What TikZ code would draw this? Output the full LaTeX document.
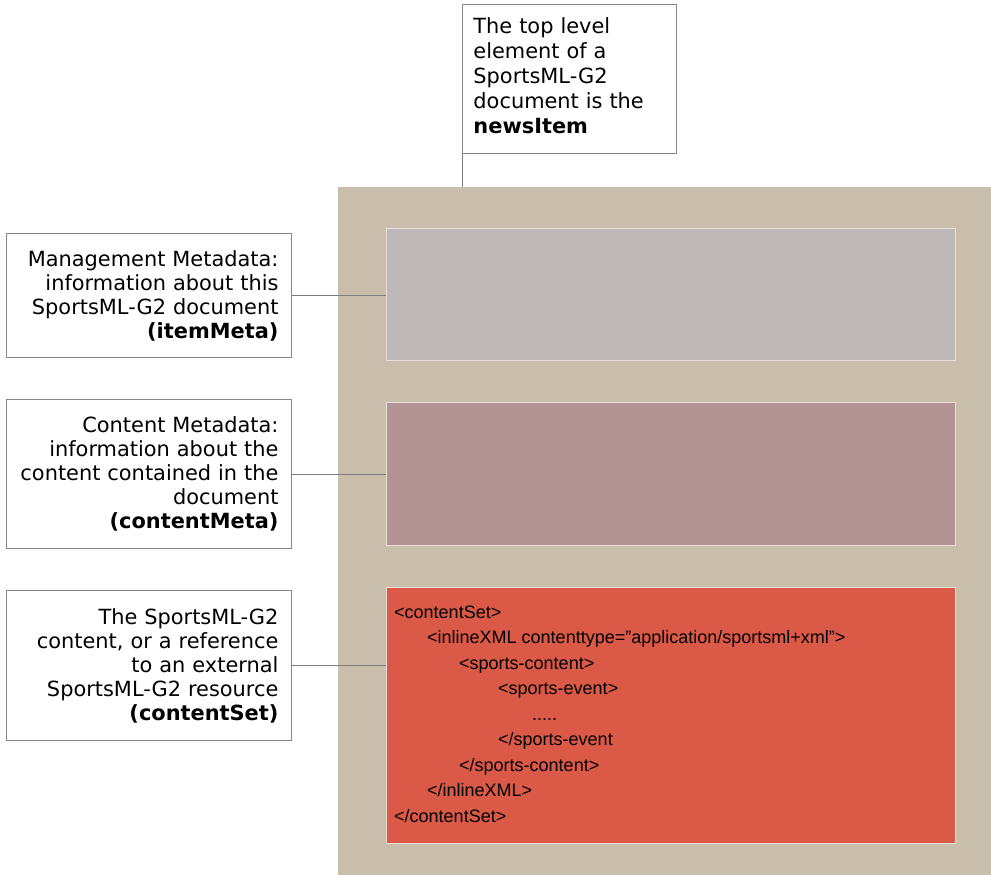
\documentclass[tikz,border=0pt]{standalone}
\usepackage{fontspec}
\setmainfont{DejaVu Sans}
\newfontfamily\codefont{Liberation Sans}

\definecolor{docbg}{RGB}{201,190,171}
\definecolor{itemfill}{RGB}{191,184,184}
\definecolor{metafill}{RGB}{179,148,149}
\definecolor{setfill}{RGB}{219,89,71}
\definecolor{partline}{RGB}{232,224,214}
\definecolor{boxline}{RGB}{135,135,135}
\definecolor{connline}{RGB}{125,125,125}

\tikzset{
  labelbox/.style={draw=boxline, line width=0.9pt, fill=white, anchor=north west,
    minimum width=285pt, text width=259pt, inner xsep=13pt, inner ysep=0pt,
    align=right, font=\fontsize{20.9}{24}\selectfont},
  topbox/.style={draw=boxline, line width=0.9pt, fill=white, anchor=north west,
    minimum width=214pt, minimum height=149pt, text width=192pt, inner xsep=11pt,
    inner ysep=0pt, align=left, font=\fontsize{20.9}{25}\selectfont},
  part/.style={draw=partline, line width=1pt, anchor=north west,
    minimum width=569pt, inner sep=0pt},
  conn/.style={draw=connline, line width=0.8pt},
  code/.style={anchor=north west, inner sep=0pt, align=left, text=black,
    font=\codefont\fontsize{18}{25.5}\selectfont}
}

\begin{document}
\begin{tikzpicture}[x=1pt,y=-1pt]
\useasboundingbox (0,0) rectangle (991,875);

% the newsItem document and its three parts
\node[fill=docbg, anchor=north west, inner sep=0pt,
      minimum width=653pt, minimum height=688pt] (doc) at (338,187) {};
\node[part, fill=itemfill, minimum height=132pt] (item) at (386,228) {};
\node[part, fill=metafill, minimum height=143pt] (meta) at (386,402) {};
\node[part, fill=setfill, minimum height=256pt] (set) at (386,587) {};

% XML listing inside the contentSet part
\node[code] (xml) at (394,605.5) {%
<contentSet>\\
\hspace*{33pt}<inlineXML contenttype=”application/sportsml+xml”>\\
\hspace*{65pt}<sports-content>\\
\hspace*{104pt}<sports-event>\\
\hspace*{138pt}.....\\
\hspace*{104pt}</sports-event\\
\hspace*{65pt}</sports-content>\\
\hspace*{33pt}</inlineXML>\\
</contentSet>};

% callouts
\node[topbox] (top) at (462,4)
  {The top level\\element of a\\SportsML-G2\\document is the\\\textbf{newsItem}\rule[-7pt]{0pt}{7pt}};

\node[labelbox, minimum height=124pt] (mgmt) at (6,233)
  {Management Metadata:\\information about this\\SportsML-G2 document\\\textbf{(itemMeta)}};
\node[labelbox, minimum height=149pt] (cmeta) at (6,399)
  {Content Metadata:\\information about the\\content contained in the\\document\\\textbf{(contentMeta)}};
\node[labelbox, minimum height=150pt] (cset) at (6,590)
  {The SportsML-G2\\content, or a reference\\to an external\\SportsML-G2 resource\\\textbf{(contentSet)}};

% leader lines
\draw[conn] (top.south west) -- (top.south west |- doc.north);
\draw[conn] (mgmt.east) -- (mgmt.east -| item.west);
\draw[conn] (cmeta.east) -- (cmeta.east -| meta.west);
\draw[conn] (cset.east) -- (cset.east -| set.west);
\end{tikzpicture}
\end{document}
